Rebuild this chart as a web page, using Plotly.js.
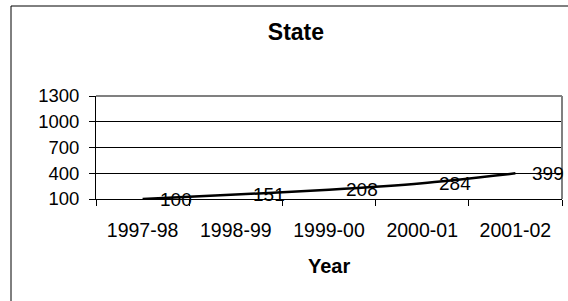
<!DOCTYPE html>
<html><head><meta charset="utf-8">
<script src="https://cdn.plot.ly/plotly-3.0.1.min.js"></script>
<style>html,body{margin:0;padding:0;background:#fff;}#chart{width:568px;height:301px;}</style>
</head><body><div id="chart"></div>
<script>
const categories = ["1997-98","1998-99","1999-00","2000-01","2001-02"];
const values = [100,151,208,284,399];
const yTicks = [100,400,700,1000,1300];
const chartTitle = "State";
const xTitle = "Year";

const FONT = "Liberation Sans, Arial, sans-serif";
const trace = {
  x: categories, y: values, type: "scatter", mode: "lines",
  line: {color: "#000", width: 2.5, shape: "spline", smoothing: 0.6},
  hoverinfo: "none", cliponaxis: false
};
const annotations = categories.map((c,i)=>({
  x: c, y: values[i], xref: "x", yref: "y", text: String(values[i]),
  showarrow: false, xanchor: "left", yanchor: "middle", xshift: 15,
  font: {family: FONT, size: 19, color: "#000"}
}));
annotations.push({
  xref: "paper", yref: "paper", x: 0.5, y: -0.65, yanchor: "middle",
  text: "<b>" + xTitle + "</b>", showarrow: false,
  font: {family: FONT, size: 20, color: "#000"}
});
const layout = {
  width: 568, height: 301,
  margin: {l: 96, r: 6, t: 96, b: 102},
  paper_bgcolor: "#fff", plot_bgcolor: "#fff",
  showlegend: false,
  title: {text: "<b>" + chartTitle + "</b>", xref: "container", x: 0.521, xanchor: "center",
          yref: "container", y: 1 - 32/301, yanchor: "middle",
          font: {family: FONT, size: 23, color: "#000"}},
  font: {family: FONT, size: 19, color: "#000"},
  xaxis: {type: "category", range: [-0.5, 4.5], tickson: "boundaries",
          ticks: "outside", ticklen: 6, tickcolor: "#000", tickwidth: 1,
          showline: true, linecolor: "#000", linewidth: 1, showgrid: false,
          ticklabelstandoff: 14, tickfont: {family: FONT, size: 19.5, color: "#000"},
          fixedrange: true},
  yaxis: {range: [100, 1300], tickvals: yTicks, ticktext: yTicks.map(String),
          ticks: "outside", ticklen: 6, tickcolor: "#000", tickwidth: 1,
          showline: true, linecolor: "#000", linewidth: 1,
          showgrid: true, gridcolor: "#000", gridwidth: 1, zeroline: false,
          ticklabelstandoff: 6, tickfont: {family: FONT, size: 18.5, color: "#000"},
          fixedrange: true},
  annotations: annotations,
  shapes: [
    {type: "line", xref: "paper", yref: "paper", x0: 0, x1: 1, y0: 1, y1: 1, line: {color: "#808080", width: 2}},
    {type: "line", xref: "paper", yref: "paper", x0: 1, x1: 1, y0: 0, y1: 1, line: {color: "#808080", width: 2}},
    {type: "rect", xref: "paper", yref: "paper", x0: -85/466, x1: 1.02, y0: -1.02, y1: (199-6)/103, line: {color: "#000", width: 1}, fillcolor: "rgba(0,0,0,0)"}
  ]
};
Plotly.newPlot("chart", [trace], layout, {displayModeBar: false, staticPlot: true});
</script></body></html>
